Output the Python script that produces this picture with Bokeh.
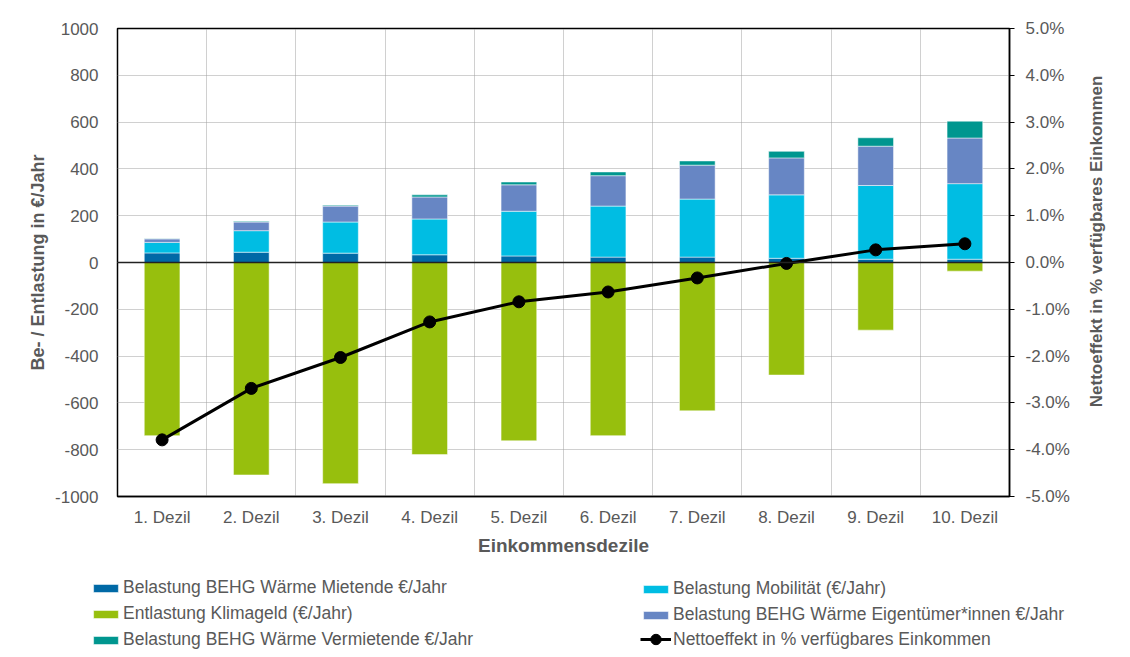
import math
from bokeh.plotting import figure
from bokeh.layouts import row
from bokeh.models import (Range1d, LinearAxis, FixedTicker, NumeralTickFormatter,
                          Span, Legend, LegendItem, ColumnDataSource, Label)
from bokeh.embed import file_html
from bokeh.resources import INLINE

deciles = ["1. Dezil", "2. Dezil", "3. Dezil", "4. Dezil", "5. Dezil",
           "6. Dezil", "7. Dezil", "8. Dezil", "9. Dezil", "10. Dezil"]
mietende = [41, 44, 40, 33, 28, 23, 23, 18, 14, 14]
mobilitaet = [45, 92, 133, 153, 191, 218, 248, 271, 315, 323]
eigentuemer = [15, 37, 68, 94, 113, 130, 145, 158, 168, 195]
vermietende = [2, 3, 4, 9, 12, 16, 18, 28, 36, 72]
klimageld = [-740, -908, -945, -821, -762, -740, -634, -481, -289, -37]
netto_pct = [-3.79, -2.69, -2.03, -1.27, -0.84, -0.63, -0.33, -0.02, 0.27, 0.40]

left_ticks = [-1000, -800, -600, -400, -200, 0, 200, 400, 600, 800, 1000]
right_ticks = [-0.05, -0.04, -0.03, -0.02, -0.01, 0.0, 0.01, 0.02, 0.03, 0.04, 0.05]

series_names = ["Belastung BEHG Wärme Mietende €/Jahr",
                "Belastung Mobilität (€/Jahr)",
                "Belastung BEHG Wärme Eigentümer*innen €/Jahr",
                "Belastung BEHG Wärme Vermietende €/Jahr",
                "Entlastung Klimageld (€/Jahr)",
                "Nettoeffekt in % verfügbares Einkommen"]

FONT = "Liberation Sans"
GREY = "#595959"
C_MIET, C_MOB, C_EIG, C_VERM, C_KLIMA = "#0069a6", "#00bde3", "#6786c4", "#00968f", "#97bf0d"

xs = [i + 0.5 for i in range(len(deciles))]
src = ColumnDataSource(dict(x=xs, mietende=mietende, mobilitaet=mobilitaet,
                            eigentuemer=eigentuemer, vermietende=vermietende,
                            klimageld=klimageld,
                            netto=[v / 100 for v in netto_pct]))

p = figure(width=1080, height=558, output_backend="svg", toolbar_location=None,
           x_range=Range1d(0, len(deciles)), y_range=Range1d(-1000, 1000),
           min_border_left=117, min_border_right=71, min_border_top=28,
           min_border_bottom=60)
p.extra_y_ranges = {"pct": Range1d(-0.05, 0.05)}

p.outline_line_color = "black"
p.outline_line_width = 1.5
p.background_fill_color = "white"
p.border_fill_color = "white"

# grids
p.xgrid.ticker = FixedTicker(ticks=list(range(1, len(deciles))))
p.xgrid.grid_line_color = "#a0a0a0"
p.xgrid.grid_line_dash = "1 1"
p.ygrid.grid_line_color = "#a0a0a0"
p.ygrid.grid_line_dash = "1 1"

# left axis
la = p.yaxis[0]
la.ticker = FixedTicker(ticks=left_ticks)
la.formatter = NumeralTickFormatter(format="0")
la.major_tick_line_color = None
la.minor_tick_line_color = None
la.axis_line_color = None
la.major_label_standoff = 13
la.major_label_text_font = FONT
la.major_label_text_font_size = "17px"
la.major_label_text_color = GREY
la.axis_label = "Be- / Entlastung in €/Jahr"
la.axis_label_text_font = FONT
la.axis_label_text_font_size = "18px"
la.axis_label_text_font_style = "bold"
la.axis_label_text_color = GREY
la.axis_label_standoff = 4

# bottom axis
xa = p.xaxis[0]
xa.ticker = FixedTicker(ticks=xs)
xa.major_label_overrides = {x: d for x, d in zip(xs, deciles)}
xa.major_tick_line_color = None
xa.minor_tick_line_color = None
xa.axis_line_color = "black"
xa.axis_line_width = 1.5
xa.major_label_standoff = 5
xa.major_label_text_font = FONT
xa.major_label_text_font_size = "17px"
xa.major_label_text_color = GREY
xa.axis_label = "Einkommensdezile"
xa.axis_label_text_font = FONT
xa.axis_label_text_font_size = "19px"
xa.axis_label_text_font_style = "bold"
xa.axis_label_text_color = GREY
xa.axis_label_standoff = 5

# right axis (title drawn in a narrow strip next to the chart)
ra = LinearAxis(y_range_name="pct", ticker=FixedTicker(ticks=right_ticks),
                formatter=NumeralTickFormatter(format="0.0%"))
ra.major_tick_in = 0
ra.major_tick_out = 5
ra.major_tick_line_color = "black"
ra.minor_tick_line_color = None
ra.axis_line_color = "black"
ra.axis_line_width = 1.5
ra.major_label_standoff = 11
ra.major_label_text_font = FONT
ra.major_label_text_font_size = "17px"
ra.major_label_text_color = GREY
p.add_layout(ra, "right")

# bars
stack = p.vbar_stack(["mietende", "mobilitaet", "eigentuemer", "vermietende"],
                     x="x", width=0.4, source=src,
                     color=[C_MIET, C_MOB, C_EIG, C_VERM],
                     line_color="white", line_alpha=0.5, line_width=1)
kg = p.vbar(x="x", top="klimageld", bottom=0, width=0.4, source=src,
            fill_color=C_KLIMA, line_color="white", line_alpha=0.5, line_width=1)

zero = Span(location=0, dimension="width", line_color="#222222", line_width=1.5)
p.add_layout(zero)

ln = p.line(x="x", y="netto", source=src, y_range_name="pct",
            line_color="black", line_width=3)
mk = p.scatter(x="x", y="netto", source=src, y_range_name="pct",
               size=12, fill_color="black", line_color="black")

# right title strip
rf = figure(width=50, height=558, output_backend="svg", toolbar_location=None,
            x_axis_type=None, y_axis_type=None,
            x_range=Range1d(0, 1), y_range=Range1d(0, 1),
            min_border_left=0, min_border_right=0, min_border_top=28, min_border_bottom=60)
rf.outline_line_color = None
rf.grid.visible = False
rf.background_fill_color = "white"
rf.border_fill_color = "white"
rf.add_layout(Label(x=0.32, y=0.545, text=series_names[5], angle=math.pi / 2,
                    text_align="center", text_baseline="middle",
                    text_font=FONT, text_font_size="17px", text_font_style="bold",
                    text_color=GREY))

# legend strip below the chart (separate root, so not frame-aligned)
lf = figure(width=1130, height=99, output_backend="svg", toolbar_location=None,
            x_axis_type=None, y_axis_type=None,
            x_range=Range1d(0, 1), y_range=Range1d(0, 1),
            min_border_left=0, min_border_right=0, min_border_top=0, min_border_bottom=0)
lf.outline_line_color = None
lf.grid.visible = False
lf.background_fill_color = "white"
lf.border_fill_color = "white"

# legend proxies: one point each, outside the visible range
def box(color):
    return lf.rect(x=[-5], y=[-5], width=0.1, height=0.1, fill_color=color,
                   line_color="white", line_alpha=0.5)

r_miet = box(C_MIET)
r_mob = box(C_MOB)
r_eig = box(C_EIG)
r_verm = box(C_VERM)
r_kg = box(C_KLIMA)
r_ln = lf.line(x=[-5, -4], y=[-5, -5], line_color="black", line_width=3)
r_mk = lf.scatter(x=[-5], y=[-5], size=12, fill_color="black", line_color="black")

def style_legend(lg, gh=10):
    lg.glyph_width = 31
    lg.glyph_height = gh
    lg.label_text_font = FONT
    lg.label_text_font_size = "17.5px"
    lg.label_text_color = GREY
    lg.label_standoff = 2
    lg.spacing = 5
    lg.padding = 0
    lg.margin = 0
    lg.border_line_color = None
    lg.background_fill_alpha = 0
    lg.label_height = 20

leg1 = Legend(items=[
    LegendItem(label=series_names[0], renderers=[r_miet]),
    LegendItem(label=series_names[4], renderers=[r_kg]),
    LegendItem(label=series_names[3], renderers=[r_verm]),
], location=(90, 7))
leg2 = Legend(items=[
    LegendItem(label=series_names[1], renderers=[r_mob]),
    LegendItem(label=series_names[2], renderers=[r_eig]),
], location=(640, 32))
leg3 = Legend(items=[
    LegendItem(label=series_names[5], renderers=[r_ln, r_mk]),
], location=(640, 5))
style_legend(leg1)
style_legend(leg2)
style_legend(leg3, gh=26)
lf.add_layout(leg1, "center")
lf.add_layout(leg2, "center")
lf.add_layout(leg3, "center")

top = row(p, rf, spacing=0)
open("out.html", "w").write(file_html([top, lf], INLINE))
